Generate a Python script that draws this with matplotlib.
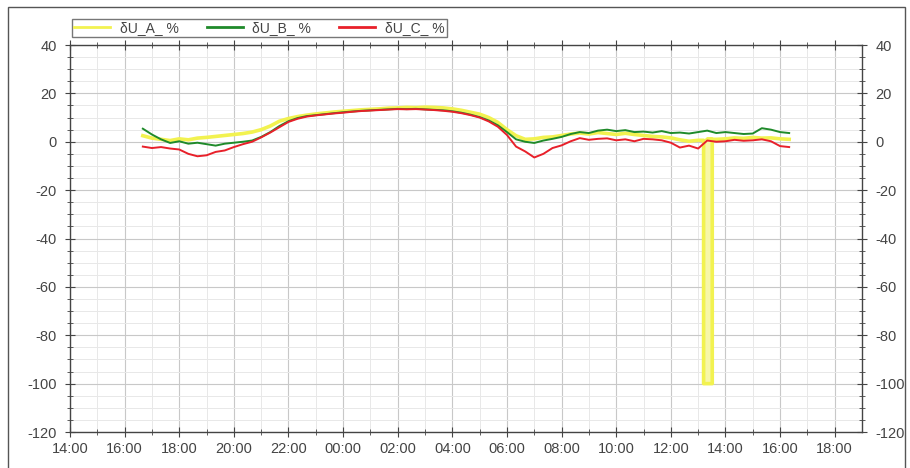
import numpy as np
import matplotlib
matplotlib.use("Agg")
from matplotlib import pyplot as plt
from matplotlib.patches import Rectangle

plt.rcParams['font.family'] = ['Liberation Sans', 'DejaVu Sans']
plt.rcParams['axes.unicode_minus'] = False

# time grid: 16:40 -> 16:20 next day, 20 min step (hours from 00:00 of day 1)
t_start = 16 + 40 / 60
t_step = 20 / 60
n_pts = 72

# dU_A, %
u_a = [2.5, 1.5, 1.0, 0.5, 1.2, 0.8, 1.5, 1.8, 2.2, 2.6,
       3.0, 3.4, 4.0, 5.0, 6.5, 8.5, 9.6, 10.4, 11.0, 11.5,
       11.9, 12.3, 12.6, 12.9, 13.2, 13.4, 13.6, 13.9, 14.0, 14.2,
       14.1, 14.3, 14.2, 14.0, 13.6, 13.0, 12.2, 11.4, 10.0, 8.0,
       5.0, 2.5, 1.0, 1.2, 1.8, 2.0, 2.6, 3.2, 3.6, 3.2,
       3.8, 3.4, 3.0, 3.5, 3.0, 2.6, 2.2, 2.0, 1.6, 0.8,
       0.2, 0.6, 1.0, 1.0, 1.2, 1.6, 1.4, 1.8, 1.5, 1.6,
       1.2, 1.0]
# dU_B, %
u_b = [5.4, 3.0, 1.0, -0.5, 0.2, -0.8, -0.4, -1.0, -1.6, -0.8,
       -0.4, 0.0, 0.5, 2.0, 4.0, 6.5, 8.5, 9.8, 10.6, 11.0,
       11.4, 11.8, 12.2, 12.5, 12.8, 13.0, 13.2, 13.4, 13.6, 13.5,
       13.6, 13.4, 13.2, 13.0, 12.6, 12.0, 11.2, 10.2, 8.8, 6.8,
       4.0, 1.0, 0.0, -0.5, 0.5, 1.2, 2.0, 3.2, 4.0, 3.6,
       4.6, 5.0, 4.4, 4.8, 4.0, 4.2, 3.8, 4.4, 3.6, 3.8,
       3.4, 4.0, 4.6, 3.6, 4.0, 3.6, 3.2, 3.4, 5.6, 5.0,
       4.0, 3.6]
# dU_C, %
u_c = [-2.0, -2.6, -2.2, -2.8, -3.2, -5.0, -6.0, -5.6, -4.2, -3.6,
       -2.2, -1.0, 0.0, 1.8, 3.8, 6.0, 8.2, 9.5, 10.4, 10.9,
       11.3, 11.7, 12.0, 12.4, 12.7, 12.9, 13.1, 13.3, 13.5, 13.4,
       13.5, 13.3, 13.1, 12.8, 12.4, 11.8, 11.0, 10.0, 8.4, 6.2,
       2.8, -2.0, -4.0, -6.5, -5.0, -2.6, -1.5, 0.2, 1.5, 0.8,
       1.2, 1.4, 0.6, 1.0, 0.2, 1.2, 1.0, 0.6, -0.4, -2.4,
       -1.6, -2.8, 0.5, 0.0, 0.2, 0.8, 0.4, 0.6, 1.0, 0.2,
       -1.8, -2.2]

# phase A outage (hours, level %)
outage_from = 24 + 13 + 12 / 60
outage_to = 24 + 13 + 31 / 60
outage_level = -100

labels = ['δU_A_ %', 'δU_B_ %', 'δU_C_ %']
colors = ['#f2f250', '#1f8a2a', '#e8202a']

t = t_start + t_step * np.arange(n_pts)

# insert the outage into phase A
ta = list(t)
ua = list(u_a)
k = int(np.searchsorted(t, outage_from))
ta[k:k] = [outage_from, outage_from, outage_to, outage_to]
ua[k:k] = [ua[k - 1], outage_level, outage_level, ua[k]]

fig = plt.figure(figsize=(9.1, 4.68), dpi=100)
W, H = 910, 468
ax = fig.add_axes([70 / W, 1 - 432 / H, (862 - 70) / W, (432 - 45) / H])

# outer frame of the widget
fig.patches.append(Rectangle((8 / W, -0.01), (905 - 8) / W, 1 - 7 / H + 0.01,
                             transform=fig.transFigure, fill=False,
                             edgecolor='#555555', lw=1.0))

ax.fill_between([outage_from, outage_to], outage_level, 0, color='#f7f7a8', lw=0, zorder=2)
ax.plot(ta, ua, color=colors[0], lw=2.6, label=labels[0], zorder=3)
ax.plot(t, u_b, color=colors[1], lw=1.4, label=labels[1], zorder=4)
ax.plot(t, u_c, color=colors[2], lw=1.4, label=labels[2], zorder=4)

ax.set_xlim(14, 43)
ax.set_ylim(-120, 40)
xt = np.arange(14, 43, 2)
ax.set_xticks(xt)
ax.set_xticklabels(['%02d:00' % (h % 24) for h in xt])
ax.set_xticks(np.arange(15, 43, 2), minor=True)
ax.set_yticks(np.arange(-120, 41, 20))
ax.set_yticks(np.arange(-120, 41, 5), minor=True)

ax.grid(which='major', color='#c8c8c8', lw=0.8)
ax.grid(which='minor', color='#e8e8e8', lw=0.7)
ax.set_axisbelow(True)

for s in ['left', 'right', 'bottom', 'top']:
    ax.spines[s].set_color('#444444')
    ax.spines[s].set_linewidth(1.0)

ax.tick_params(axis='both', which='major', direction='inout', length=7,
               color='#444444', labelcolor='#444444', labelsize=10.5,
               top=True, right=True, labelright=True)
ax.tick_params(axis='both', which='minor', direction='inout', length=4,
               color='#444444', top=True, right=True)
ax.tick_params(axis='y', pad=6)
ax.tick_params(axis='x', pad=4)

leg = fig.legend(loc='upper left', bbox_to_anchor=(72 / W, 1 - 19 / H), ncol=3,
                 frameon=True, fancybox=False, fontsize=10, handlelength=2.6,
                 columnspacing=2.0, borderpad=0.15, handletextpad=0.7,
                 borderaxespad=0, labelcolor='#444444')
leg.get_frame().set_edgecolor('#555555')
leg.get_frame().set_linewidth(1.0)
for h in leg.get_lines():
    h.set_linewidth(2.0)

fig.savefig('out.png', dpi=100)
